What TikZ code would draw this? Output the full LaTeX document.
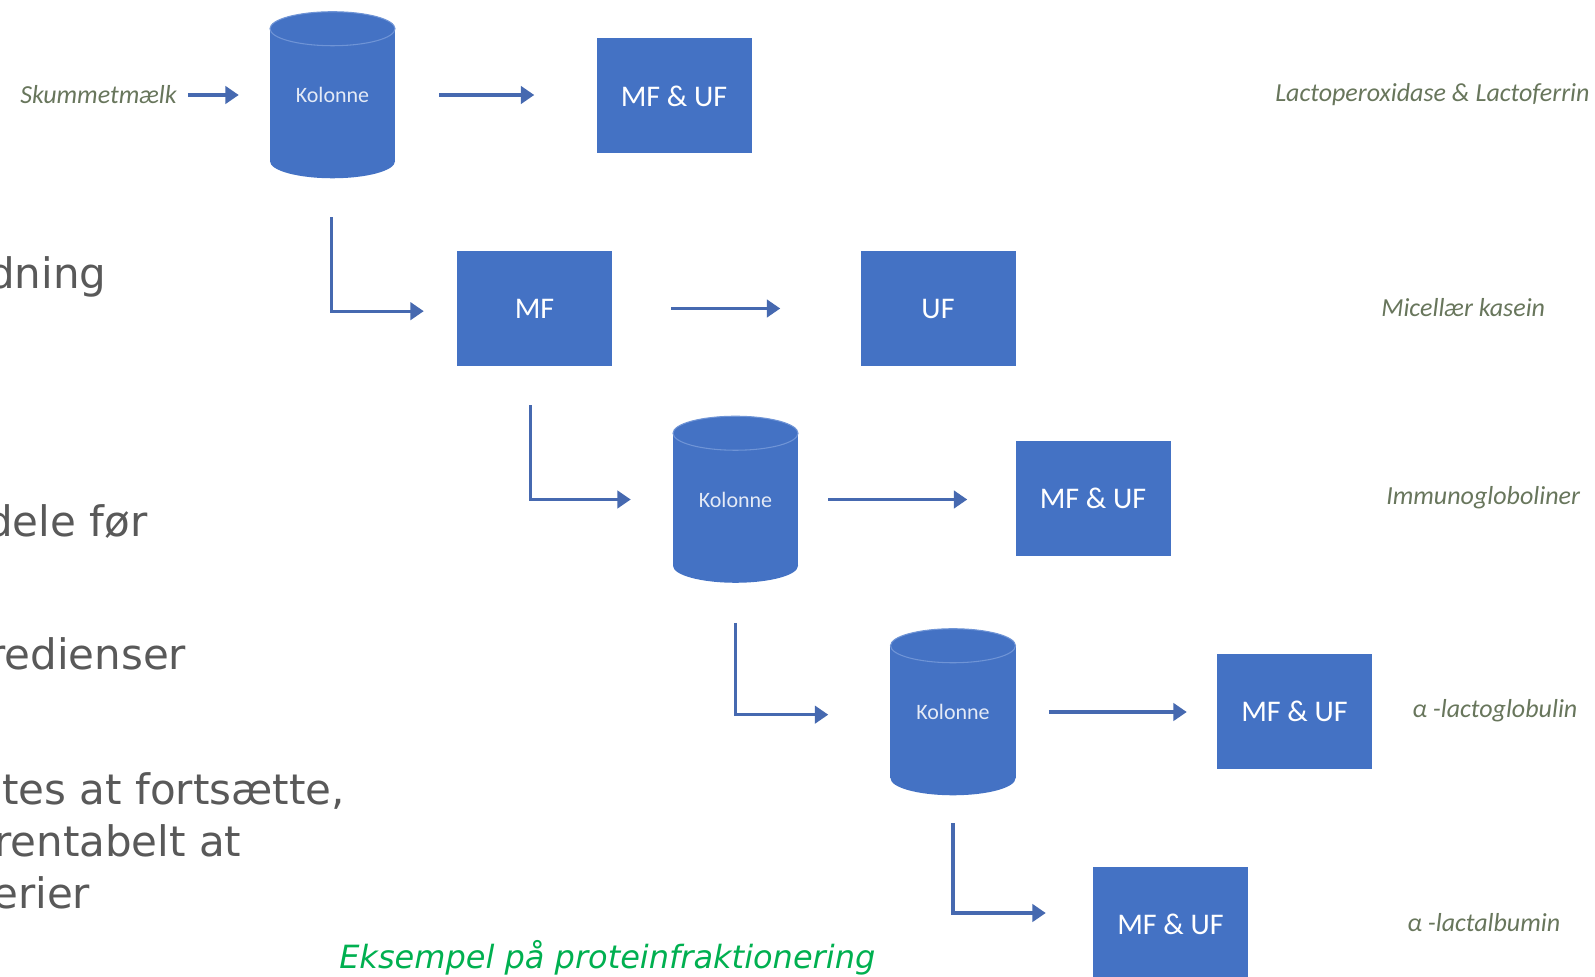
\documentclass[tikz,border=0pt]{standalone}
\usepackage{fontspec}
\newfontfamily\verd{DejaVu Sans}
\newfontfamily\cali{Carlito}
\usetikzlibrary{arrows.meta,calc,backgrounds}
\pgfdeclarelayer{back}
\pgfsetlayers{back,background,main}
\definecolor{obl}{HTML}{4472C4}
\definecolor{arrc}{HTML}{4669B0}
\definecolor{gtxt}{HTML}{595959}
\definecolor{lbl}{RGB}{104,118,92}
\definecolor{capc}{HTML}{00B050}
\definecolor{cyled}{HTML}{6F94D6}
\definecolor{cyltxt}{HTML}{E4EAF6}
\begin{document}
\begin{tikzpicture}[x=0.75pt,y=-0.75pt,
  box/.style={fill=obl, minimum width=116.25pt, minimum height=86.25pt, inner sep=0pt, text=white, font=\cali\fontsize{22.5}{27}\selectfont},
  cyl/.style={minimum width=93.75pt, minimum height=124.5pt, inner sep=0pt, text=cyltxt, font=\cali\fontsize{16.5}{20}\selectfont},
  arr/.style={draw=arrc, line width=2.4pt, -{Triangle[length=10pt,width=13pt]}},
  lab/.style={anchor=west, text=lbl, font=\cali\itshape\fontsize{19.5}{23}\selectfont, inner sep=0pt},
  side/.style={anchor=base west, text=gtxt, font=\verd\fontsize{31.5}{39}\selectfont, inner sep=0pt}]
\useasboundingbox (0,0) rectangle (1595,977);
\begin{pgfonlayer}{back}
\fill[white] (0,0) rectangle (1595,977);
\end{pgfonlayer}
\clip (0,0) rectangle (1595,977);

% nodes
\node[cyl] (c1) at (332.5,95) {Kolonne};
\node[box] (r1) at (674,96) {MF \& UF};
\node[box] (r2) at (534.5,308.5) {MF};
\node[box] (r3) at (938,308.5) {UF};
\node[cyl] (c3) at (735.5,499.5) {Kolonne};
\node[box] (r4) at (1093,498.5) {MF \& UF};
\node[cyl] (c4) at (953,712) {Kolonne};
\node[box] (r5) at (1294.5,711) {MF \& UF};
\node[box] (r6) at (1170.5,924) {MF \& UF};

% cylinder bodies
\begin{scope}[on background layer]
\foreach \n in {c1,c3,c4}{
  \fill[obl] ($(\n.north west)+(0,17)$) rectangle ($(\n.south east)+(0,-17)$);
  \fill[obl] ($(\n.south)+(0,-17)$) ellipse [x radius=46.875pt, y radius=12.75pt];
  \filldraw[fill=obl, draw=cyled, line width=0.8pt] ($(\n.north)+(0,17)$) ellipse [x radius=46.875pt, y radius=12.75pt];
}
\end{scope}

% labels
\node[lab] (skm) at (20,95) {Skummetmælk};
\node[lab] (t1) at (1275,95) {Lactoperoxidase \& Lactoferrin};
\node[lab] (t2) at (1381,308) {Micellær kasein};
\node[lab] (t3) at (1386,498) {Immunogloboliner};
\node[lab] (t4) at (1412,711) {α -lactoglobulin};
\node[lab] (t5) at (1407,923) {α -lactalbumin};

% side text (partly cut off at the left edge)
\node[side] (s1) at (-12,288) {dning};
\node[side] (s2) at (-14,536) {dele før};
\node[side] (s3) at (-12,669) {redienser};
\node[side] (s4) at (2,804) {tes at fortsætte,};
\node[side] (s5) at (-6,856) {rentabelt at};
\node[side] (s6) at (-8,908) {erier};

\node[anchor=base west, text=capc, font=\verd\itshape\fontsize{24}{29}\selectfont, inner sep=0pt] (cap) at (339,968) {Eksempel på proteinfraktionering};

% arrows
\draw[arr, shorten <=8.25pt, shorten >=23.25pt] (skm.east) -- (skm.east -| c1.west);
\draw[arr, shorten <=33pt, shorten >=46.5pt] (c1.east) -- (c1.east -| r1.west);
\draw[arr, shorten <=44.25pt, shorten >=60pt] (r2.east) -- (r3.west);
\draw[arr, shorten <=22.5pt, shorten >=36pt] (c3.east) -- (c3.east -| r4.west);
\draw[arr, shorten <=24.75pt, shorten >=22.5pt] (c4.east) -- (c4.east -| r5.west);

\draw[arr] ([yshift=-29.25pt,xshift=-1pt]c1.south) |- ([xshift=-24.75pt,yshift=-2pt]r2.west);
\draw[arr] ([yshift=-29.25pt,xshift=-3pt]r2.south) |- ([xshift=-31.5pt]c3.west);
\draw[arr] ([yshift=-30pt]c3.south) |- ([xshift=-46.5pt,yshift=-2pt]c4.west);
\draw[arr] ([yshift=-21pt]c4.south) |- ([xshift=-35.25pt,yshift=8.25pt]r6.west);
\end{tikzpicture}
\end{document}
